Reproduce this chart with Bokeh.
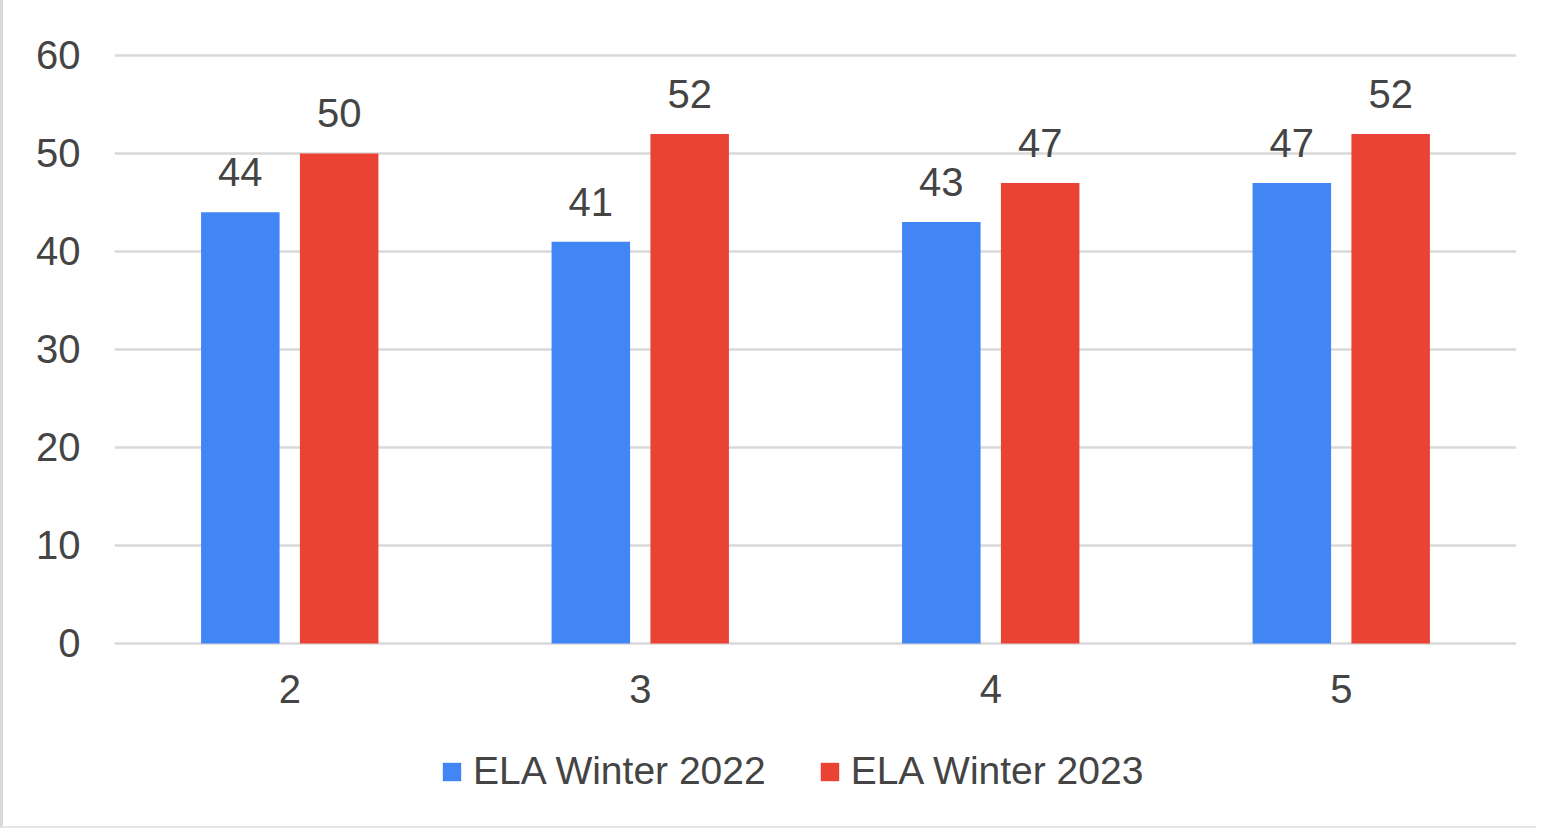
from bokeh.plotting import figure
from bokeh.models import (ColumnDataSource, FactorRange, Range1d, FixedTicker,
                          Legend, LegendItem)
from bokeh.transform import dodge
from bokeh.core.properties import value
from bokeh.embed import file_html
from bokeh.resources import INLINE

grades = ["2", "3", "4", "5"]
winter_2022 = [44, 41, 43, 47]
winter_2023 = [50, 52, 47, 52]
series_names = ["ELA Winter 2022", "ELA Winter 2023"]
y_ticks = [0, 10, 20, 30, 40, 50, 60]

BLUE = "#4285f4"
RED = "#ea4335"
TEXT = "#444444"
GRID = "#d9d9d9"
FONT = "Liberation Sans"

src = ColumnDataSource(data=dict(
    grade=grades,
    w22=winter_2022,
    w23=winter_2023,
    w22_txt=[str(v) for v in winter_2022],
    w23_txt=[str(v) for v in winter_2023],
))

# frame extends below the zero line so the legend can sit inside it
p = figure(x_range=FactorRange(*grades, range_padding=0),
           y_range=Range1d(-17.551, 61.02),
           frame_width=1402, frame_height=770,
           min_border_left=111, min_border_right=20,
           min_border_top=45, min_border_bottom=11,
           output_backend="svg", toolbar_location=None)

bw = 0.224
r1 = p.vbar(x=dodge("grade", -0.141, range=p.x_range), top="w22", bottom=0,
            width=bw, source=src, fill_color=BLUE, line_color=None)
r2 = p.vbar(x=dodge("grade", 0.141, range=p.x_range), top="w23", bottom=0,
            width=bw, source=src, fill_color=RED, line_color=None)

for col, off in (("w22", -0.141), ("w23", 0.141)):
    p.text(x=dodge("grade", off, range=p.x_range), y=col, text=col + "_txt",
           source=src, text_align="center", text_baseline="alphabetic",
           y_offset=-40, text_font=value(FONT), text_font_size="40px",
           text_color=TEXT)

p.xgrid.grid_line_color = None
p.ygrid.grid_line_color = GRID
p.ygrid.grid_line_width = 2.5
p.yaxis.ticker = FixedTicker(ticks=y_ticks)
p.ygrid.ticker = FixedTicker(ticks=y_ticks)

for ax in (p.xaxis[0], p.yaxis[0]):
    ax.axis_line_color = None
    ax.major_tick_line_color = None
    ax.minor_tick_line_color = None
    ax.major_tick_out = 0
    ax.major_tick_in = 0
    ax.major_label_text_font = FONT
    ax.major_label_text_font_size = "40px"
    ax.major_label_text_color = TEXT
p.yaxis.major_label_standoff = 34
p.xaxis.major_label_standoff = 32
p.xaxis.fixed_location = 0

legend = Legend(items=[LegendItem(label=series_names[0], renderers=[r1]),
                       LegendItem(label=series_names[1], renderers=[r2])],
                location=(326, 22), orientation="horizontal",
                glyph_width=23, glyph_height=23, label_standoff=10,
                spacing=52, padding=0, margin=0,
                label_text_font=FONT, label_text_font_size="39px",
                label_text_color=TEXT,
                border_line_color=None, background_fill_alpha=0)
p.add_layout(legend, "center")

p.styles = {"border-left": "3px solid #d9d9d9",
            "border-bottom": "2px solid #e6e6e6"}

p.outline_line_color = None
p.background_fill_color = "white"
p.border_fill_color = "white"

open("out.html", "w").write(file_html(p, INLINE))
